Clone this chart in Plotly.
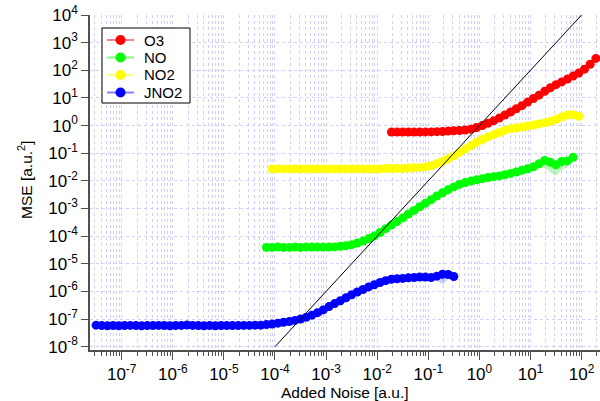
import plotly.graph_objects as go

# Added-noise levels (a.u.), shared by all species; each series uses a slice
noise = [
    3.16e-8, 4.08e-8, 5.27e-8, 6.81e-8, 8.80e-8, 1.14e-7, 1.47e-7, 1.90e-7, 2.45e-7,
    3.16e-7, 4.08e-7, 5.27e-7, 6.81e-7, 8.80e-7, 1.14e-6, 1.47e-6, 1.90e-6, 2.45e-6,
    3.16e-6, 4.08e-6, 5.27e-6, 6.81e-6, 8.80e-6, 1.14e-5, 1.47e-5, 1.90e-5, 2.45e-5,
    3.16e-5, 4.08e-5, 5.27e-5, 6.81e-5, 8.80e-5, 1.14e-4, 1.47e-4, 1.90e-4, 2.45e-4,
    3.16e-4, 4.08e-4, 5.27e-4, 6.81e-4, 8.80e-4, 1.14e-3, 1.47e-3, 1.90e-3, 2.45e-3,
    3.16e-3, 4.08e-3, 5.27e-3, 6.81e-3, 8.80e-3, 1.14e-2, 1.47e-2, 1.90e-2, 2.45e-2,
    3.16e-2, 4.08e-2, 5.27e-2, 6.81e-2, 8.80e-2, 1.14e-1, 1.47e-1, 1.90e-1, 2.45e-1,
    3.16e-1, 4.08e-1, 5.27e-1, 6.81e-1, 8.80e-1, 1.14e0, 1.47e0, 1.90e0, 2.45e0,
    3.16e0, 4.08e0, 5.27e0, 6.81e0, 8.80e0, 1.14e1, 1.47e1, 1.90e1, 2.45e1,
    3.16e1, 4.08e1, 5.27e1, 6.81e1, 8.80e1, 1.14e2, 1.47e2, 1.90e2, 2.45e2,
]

# Mean squared error per species (a.u.^2) and index of its first noise level
o3_start = 52
o3_mse = [
    0.58, 0.58, 0.58, 0.58, 0.58, 0.58, 0.59, 0.59, 0.60, 0.61, 0.63,
    0.65, 0.66, 0.69, 0.74, 0.85, 1.0, 1.20, 1.48, 1.86, 2.40, 3.09,
    4.07, 5.25, 7.08, 9.55, 12.6, 17.4, 23.4, 30.2, 38.0, 47.9, 61.7,
    79.4, 110, 166, 269,
]

no_start = 30
no_mse = [
    3.9e-5, 3.9e-5, 4.0e-5, 3.9e-5, 3.9e-5, 4.0e-5, 3.9e-5, 4.0e-5, 4.0e-5, 4.0e-5,
    4.0e-5, 4.0e-5, 4.07e-5, 4.27e-5, 4.47e-5, 4.90e-5, 5.62e-5, 6.61e-5, 8.13e-5,
    1.02e-4, 1.35e-4, 1.86e-4, 2.51e-4, 3.39e-4, 4.57e-4, 6.31e-4, 8.51e-4,
    1.15e-3, 1.55e-3, 2.09e-3, 2.82e-3, 3.72e-3, 4.79e-3, 6.03e-3, 7.41e-3, 8.71e-3,
    9.77e-3, 1.10e-2, 1.20e-2, 1.32e-2, 1.41e-2, 1.51e-2, 1.66e-2, 1.86e-2, 2.09e-2,
    2.40e-2, 2.75e-2, 3.24e-2, 4.17e-2, 5.50e-2, 4.68e-2, 3.80e-2, 5.01e-2, 5.25e-2,
    7.08e-2,
]

no2_start = 31
no2_mse = [
    0.027, 0.027, 0.027, 0.027, 0.027, 0.027, 0.027, 0.027, 0.027, 0.027,
    0.027, 0.027, 0.027, 0.027, 0.027, 0.027, 0.027, 0.027, 0.027, 0.027,
    0.028, 0.028, 0.028, 0.028, 0.029, 0.030, 0.030, 0.032, 0.035, 0.042,
    0.050, 0.063, 0.081, 0.107, 0.141, 0.186, 0.245, 0.316, 0.389, 0.468,
    0.562, 0.676, 0.759, 0.832, 0.891, 0.955, 1.05, 1.15, 1.26, 1.41,
    1.66, 2.04, 2.40, 2.45, 2.14,
]

jno2_start = 0
jno2_mse = [
    6.0e-8, 5.8e-8, 5.7e-8, 5.8e-8, 5.7e-8, 5.8e-8, 5.9e-8, 5.8e-8, 5.7e-8, 5.8e-8,
    5.8e-8, 5.9e-8, 5.8e-8, 5.7e-8, 5.8e-8, 5.9e-8, 6.1e-8, 5.9e-8, 5.8e-8, 5.7e-8,
    5.8e-8, 5.7e-8, 5.8e-8, 5.8e-8, 5.8e-8, 5.8e-8, 5.9e-8, 5.9e-8, 6.0e-8,
    6.0e-8, 6.3e-8, 6.6e-8, 7.1e-8, 7.6e-8, 8.1e-8, 8.9e-8,
    1.0e-7, 1.15e-7, 1.38e-7, 1.7e-7, 2.14e-7, 2.82e-7, 3.63e-7, 4.57e-7, 5.89e-7,
    7.59e-7, 9.55e-7, 1.17e-6, 1.45e-6, 1.74e-6, 2.09e-6, 2.45e-6, 2.75e-6, 2.88e-6,
    2.95e-6, 3.09e-6, 3.16e-6, 3.31e-6, 3.3e-6, 3.16e-6, 3.55e-6, 4.17e-6, 4.07e-6,
    3.47e-6,
]

# Spread envelopes at the high-noise end (lower / upper)
no_band_start = 77
no_band_lo = [0.0302, 0.0331, 0.0282, 0.020, 0.0151, 0.0251, 0.0316, 0.0501]
no_band_hi = [0.0347, 0.0501, 0.0661, 0.0603, 0.0501, 0.0603, 0.0631, 0.0832]
jno2_band_start = 59
jno2_band_lo = [3.02e-6, 2.51e-6, 1.78e-6, 2.82e-6, 3.31e-6]
jno2_band_hi = [3.31e-6, 3.98e-6, 4.68e-6, 4.57e-6, 3.63e-6]

# Reference line MSE = noise^2
ref_noise = [1e-4, 1e2]
ref_mse = [1e-8, 1e4]

# Decade tick labels
x_exponents = [-7, -6, -5, -4, -3, -2, -1, 0, 1, 2]
y_exponents = [-8, -7, -6, -5, -4, -3, -2, -1, 0, 1, 2, 3, 4]

series = [
    ("O3", o3_start, o3_mse, "#ff0000", "rgb(255,130,130)"),
    ("NO", no_start, no_mse, "#00ff00", "rgb(130,255,130)"),
    ("NO2", no2_start, no2_mse, "#ffff00", "rgb(255,255,140)"),
    ("JNO2", jno2_start, jno2_mse, "#0000ff", "rgb(130,130,255)"),
]

fig = go.Figure()


def add_band(start, lo, hi, color):
    xs = noise[start:start + len(lo)]
    fig.add_trace(go.Scatter(
        x=xs + xs[::-1], y=hi + lo[::-1], fill="toself", fillcolor=color,
        line=dict(width=0), mode="lines", showlegend=False, hoverinfo="skip",
    ))


add_band(no_band_start, no_band_lo, no_band_hi, "rgba(0,220,0,0.25)")
add_band(jno2_band_start, jno2_band_lo, jno2_band_hi, "rgba(60,60,255,0.25)")

for name, start, vals, mcolor, lcolor in series:
    fig.add_trace(go.Scatter(
        x=noise[start:start + len(vals)], y=vals, name=name,
        mode="lines+markers", showlegend=False,
        line=dict(color=lcolor, width=2),
        marker=dict(color=mcolor, size=9, line=dict(width=0)),
    ))

fig.add_trace(go.Scatter(
    x=ref_noise, y=ref_mse, mode="lines", showlegend=False,
    line=dict(color="black", width=1),
))

# Plot-area geometry in pixels (used for the key and axis titles)
L, R, T, B = 90, 600, 15, 350


def px(x):
    return (x - L) / (R - L)


def py(y):
    return (B - y) / (B - T)


shapes = [dict(type="rect", xref="paper", yref="paper",
               x0=px(102), x1=px(190), y0=py(103), y1=py(28),
               line=dict(color="black", width=1), fillcolor="white", layer="above")]
annotations = []
key_rows = [40, 57.5, 75, 92.5]
for (name, _, _, mcolor, lcolor), ry in zip(series, key_rows):
    shapes.append(dict(type="line", xref="paper", yref="paper",
                       x0=px(107), x1=px(134), y0=py(ry), y1=py(ry),
                       line=dict(color=lcolor, width=2), layer="above"))
    shapes.append(dict(type="circle", xref="paper", yref="paper",
                       xsizemode="pixel", ysizemode="pixel",
                       xanchor=px(120.5), yanchor=py(ry),
                       x0=-5, x1=5, y0=-5, y1=5,
                       fillcolor=mcolor, line=dict(width=0), layer="above"))
    annotations.append(dict(text=name, xref="paper", yref="paper",
                            x=px(142), y=py(ry), xanchor="left", yanchor="middle",
                            showarrow=False, font=dict(size=15)))

# Axis titles
annotations.append(dict(text="Added Noise [a.u.]", xref="paper", yref="paper",
                        x=0.5, y=py(392), xanchor="center", yanchor="middle",
                        showarrow=False, font=dict(size=15.5)))
annotations.append(dict(text="MSE [a.u.<sup>2</sup>]", xref="paper", yref="paper",
                        x=px(25), y=py(180), xanchor="center", yanchor="middle",
                        textangle=-90, showarrow=False, font=dict(size=15.5)))

grid = "rgb(208,208,255)"
axis_col = "#505050"
font = "Arial, Liberation Sans, sans-serif"
tick_font = dict(family=font, size=17, color="black")

fig.update_layout(
    width=600, height=401,
    margin=dict(l=L, r=600 - R, t=T, b=401 - B),
    paper_bgcolor="white", plot_bgcolor="white",
    font=dict(family=font, size=14, color="black"),
    showlegend=False,
    shapes=shapes,
    annotations=annotations,
    xaxis=dict(
        type="log", range=[-7.62, 2.36],
        tickmode="array", tickvals=[10.0 ** e for e in x_exponents],
        ticktext=[f"10<sup>{e}</sup>" for e in x_exponents],
        tickfont=tick_font,
        showline=True, linecolor=axis_col, linewidth=1.5,
        ticks="outside", ticklen=8, tickcolor=axis_col, tickwidth=1,
        showgrid=True, gridcolor=grid, griddash="dot", gridwidth=1,
        minor=dict(dtick="D1", ticks="outside", ticklen=4, tickcolor=axis_col,
                   showgrid=True, gridcolor=grid, griddash="dot", gridwidth=1),
        zeroline=False, ticklabelstandoff=0,
        automargin=False,
    ),
    yaxis=dict(
        type="log", range=[-8.12, 4.0],
        tickmode="array", tickvals=[10.0 ** e for e in y_exponents],
        ticktext=[f"10<sup>{e}</sup>" for e in y_exponents],
        tickfont=tick_font,
        showline=True, linecolor=axis_col, linewidth=1.5,
        ticks="outside", ticklen=7, tickcolor=axis_col, tickwidth=1,
        showgrid=True, gridcolor=grid, griddash="dot", gridwidth=1,
        zeroline=False,
        automargin=False,
    ),
)

fig.write_html("out.html")
